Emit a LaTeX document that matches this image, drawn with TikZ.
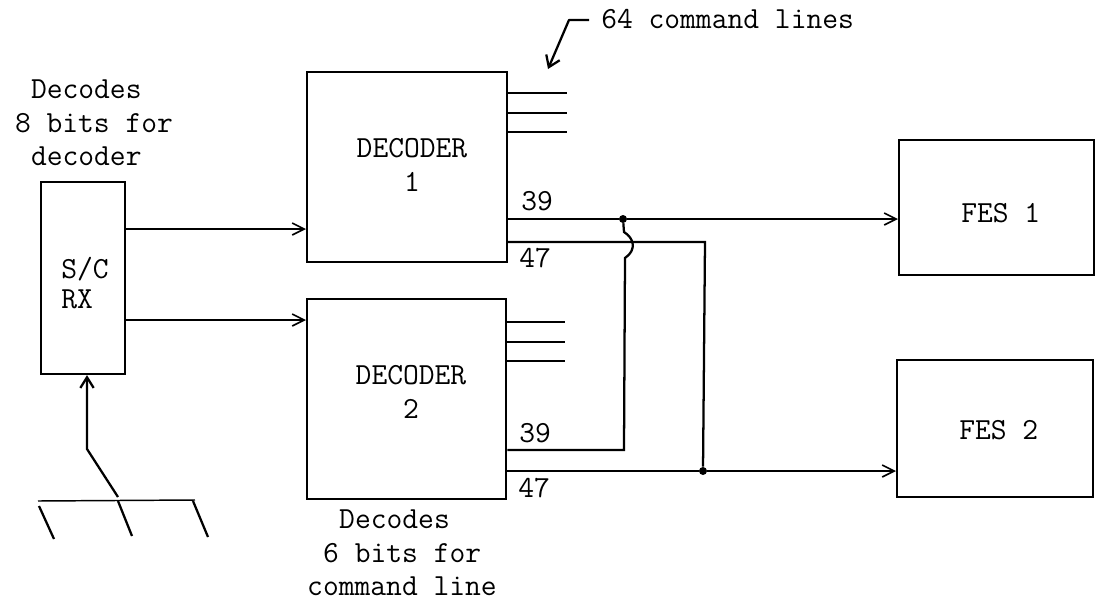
\documentclass[tikz,border=0pt]{standalone}
\usetikzlibrary{arrows.meta}
\begin{document}
\begin{tikzpicture}[x=0.75pt,y=-0.75pt,
  blockbox/.style={draw=black,line width=1.6pt,rectangle,inner sep=0pt,anchor=north west},
  lbl/.style={inner sep=0pt,font=\ttfamily\fontsize{23}{25}\selectfont},
  wire/.style={draw=black,line width=1.2pt},
  heavy/.style={draw=black,line width=1.7pt},
  thin wire/.style={draw=black,line width=1.1pt},
  arrowed/.style={-{Straight Barb[length=9pt,width=9pt,line width=1.2pt]}},
  joint/.style={circle,fill=black,inner sep=0pt,minimum size=6pt}]
\useasboundingbox (0,0) rectangle (1101,604);
\fill[white] (0,0) rectangle (1101,604);
% blocks
\node[blockbox,minimum width=63pt,minimum height=144pt] (rx) at (40,181) {};
\node[blockbox,minimum width=150pt,minimum height=142.5pt] (d1) at (306,71) {};
\node[blockbox,minimum width=149.5pt,minimum height=150pt] (d2) at (306,298) {};
\node[blockbox,minimum width=146.5pt,minimum height=101pt] (f1) at (898,139) {};
\node[blockbox,minimum width=147pt,minimum height=103pt] (f2) at (896,359) {};
% block texts
\node[lbl,align=left,anchor=west] (trx) at (61,283) {S/C\\[-2pt]RX};
\node[lbl,align=center] (td1) at (412,165) {DECODER\\1};
\node[lbl,align=center] (td2) at (411,392) {DECODER\\2};
\node[lbl,anchor=west] (tf1) at (961,213) {FES 1};
\node[lbl,anchor=west] (tf2) at (959,430) {FES 2};
% texts
\node[lbl,align=left,anchor=center] (t1) at (94,123) {\hspace*{12pt}Decodes\\8 bits for\\\hspace*{12pt}decoder};
\node[lbl,align=left,anchor=center] (t2) at (402,553) {\hspace*{24pt}Decodes\\\hspace*{12pt}6 bits for\\command line};
\node[lbl,anchor=west] (t3) at (601,19) {64 command lines};
\node[lbl,anchor=west] (n39a) at (521,201) {39};
\node[lbl,anchor=west] (n47a) at (519,258) {47};
\node[lbl,anchor=west] (n39b) at (519,433) {39};
\node[lbl,anchor=west] (n47b) at (518,488) {47};
% RX to decoders
\draw[wire,arrowed] (rx.east |- 0,229) coordinate (a1) -- (d1.west |- a1);
\draw[wire,arrowed] (rx.east |- 0,320) coordinate (a2) -- (d2.west |- a2);
% command lines
\foreach \y/\n in {93/a,113/b,132/c}{
  \coordinate (d1\n) at (d1.east |- 0,\y);
  \coordinate (e1\n) at (567,\y);
  \draw[thin wire] (d1\n) -- (e1\n);
}
\foreach \y/\n in {322/a,342/b,361/c}{
  \coordinate (d2\n) at (d2.east |- 0,\y);
  \coordinate (e2\n) at (565,\y);
  \draw[thin wire] (d2\n) -- (e2\n);
}
% command-line pointer
\coordinate (p0) at (589,20);
\coordinate (p1) at (569,20);
\coordinate (p2) at (548,69);
\draw[heavy,line join=round,-{Straight Barb[length=8pt,width=11pt,line width=1.7pt]}] (p0) -- (p1) -- (p2);
% junctions
\node[joint] (j1) at (623,219) {};
\node[joint] (j2) at (703,471) {};
% outputs
\draw[wire,arrowed] (d1.east |- 0,219) -- (j1) -- (f1.west |- 0,219);
\draw[wire,arrowed] (d2.east |- 0,471) -- (j2) -- (f2.west |- 0,471);
\coordinate (c47) at (705,242);
\draw[heavy,line join=miter] (d1.east |- 0,242) -- (c47) -- (j2);
\coordinate (b39) at (624,450);
\coordinate (s1) at (624,232);
\coordinate (s2) at (625,258);
\draw[heavy] (j1) -- (s1) .. controls (634,238) and (637,250) .. (s2) -- (b39) -- (d2.east |- b39);
% antenna
\coordinate (an1) at (87,449);
\coordinate (an2) at (118,497);
\draw[heavy,-{Straight Barb[length=8pt,width=10pt,line width=1.7pt]}] (an2) -- (an1) -- (rx.south -| an1);
\coordinate (g1) at (38,501);
\coordinate (g2) at (195,500);
\draw[thin wire] (g1) -- (g2);
\coordinate (h1) at (39,506); \coordinate (h1e) at (54,539);
\coordinate (h2) at (118,501); \coordinate (h2e) at (132,536);
\coordinate (h3) at (193,501); \coordinate (h3e) at (208,537);
\draw[heavy] (h1) -- (h1e);
\draw[heavy] (h2) -- (h2e);
\draw[heavy] (h3) -- (h3e);
\end{tikzpicture}
\end{document}
